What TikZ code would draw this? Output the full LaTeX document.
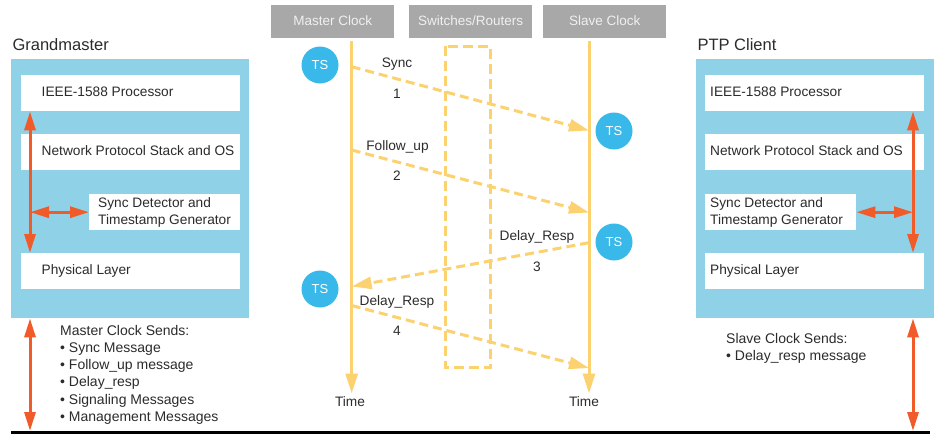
\documentclass[tikz,border=0pt]{standalone}
\usepackage{fontspec}
\setmainfont{Liberation Sans}
\usetikzlibrary{arrows.meta,calc}
\definecolor{panel}{HTML}{8FD1E7}
\definecolor{signal}{HTML}{F15A29}
\definecolor{msg}{HTML}{FBD26F}
\definecolor{stamp}{HTML}{39B9E9}
\definecolor{hdr}{HTML}{A8A8A8}
\definecolor{hdrtext}{HTML}{F0F0F0}
\definecolor{ink}{HTML}{2B2B2B}
\begin{document}
\begin{tikzpicture}[x=1pt,y=-1pt,
  every node/.style={text=ink},
  txt/.style={font=\fontsize{13.7}{15}\selectfont},
  title/.style={font=\fontsize{16.5}{19}\selectfont, anchor=base west},
  panelbox/.style={fill=panel, draw=none, inner sep=0pt, anchor=north west},
  layer/.style={fill=white, draw=none, inner sep=0pt, anchor=north west, minimum height=36pt},
  lbl/.style={txt, anchor=west, inner sep=0pt, text height=9.8pt, text depth=2.6pt},
  hdrbox/.style={fill=hdr, draw=none, inner sep=0pt, anchor=north west,
    minimum width=123pt, minimum height=32.7pt, text=hdrtext,
    font=\fontsize{13.5}{15}\selectfont, text height=9.5pt, text depth=2.5pt},
  stampdot/.style={circle, fill=stamp, minimum size=37pt, inner sep=0pt,
    text=white, font=\fontsize{13}{14}\selectfont},
  link/.style={draw=signal, line width=3pt,
    {Triangle[length=19pt,width=11pt]}-{Triangle[length=19pt,width=11pt]}},
  life/.style={draw=msg, line width=3pt, -{Triangle[length=20pt,width=12pt]}},
  message/.style={draw=msg, line width=3pt, dash pattern=on 9pt off 5pt,
    -{Triangle[length=20pt,width=12pt]}},
  msglbl/.style={txt, anchor=base, inner sep=0pt},
  listline/.style={font=\fontsize{14}{16}\selectfont, anchor=base west, inner sep=0pt}
]
\useasboundingbox (0,0) rectangle (935,434);

% ---------------- Grandmaster stack ----------------
\node[title] (gmtitle) at (9,50.7) {Grandmaster};
\node[panelbox, minimum width=238pt, minimum height=259pt] (gm) at (11,59) {};
\node[layer, minimum width=219pt] (gmproc) at (21,75) {};
\node[lbl] (gmproct) at ($(gmproc.west)+(20.5,0)$) {IEEE-1588 Processor};
\node[layer, minimum width=219pt] (gmnet) at (21,134) {};
\node[lbl] (gmnett) at ($(gmnet.west)+(20.5,0)$) {Network Protocol Stack and OS};
\node[layer, minimum width=151pt] (gmsync) at (89,194) {};
\node[txt, anchor=west, align=left, inner sep=0pt, font=\fontsize{13.7}{17}\selectfont] (gmsynct)
  at ($(gmsync.west)+(9,0)$) {Sync Detector and\\Timestamp Generator};
\node[layer, minimum width=219pt] (gmphy) at (21,253) {};
\node[lbl] (gmphyt) at ($(gmphy.west)+(20.5,0)$) {Physical Layer};

\coordinate (gmbus) at (30,0);
\draw[link] (gmproc.south -| gmbus) -- (gmphy.north -| gmbus);
\draw[link] (gmbus |- gmsync.west) -- (gmsync.west);

% ---------------- PTP client stack ----------------
\node[title] (pctitle) at (694,50.7) {PTP Client};
\node[panelbox, minimum width=238pt, minimum height=259pt] (pc) at (696,59) {};
\node[layer, minimum width=219pt] (pcproc) at (705,75) {};
\node[lbl] (pcproct) at ($(pcproc.west)+(5,0)$) {IEEE-1588 Processor};
\node[layer, minimum width=219pt] (pcnet) at (705,134) {};
\node[lbl] (pcnett) at ($(pcnet.west)+(5,0)$) {Network Protocol Stack and OS};
\node[layer, minimum width=151pt] (pcsync) at (705,194) {};
\node[txt, anchor=west, align=left, inner sep=0pt, font=\fontsize{13.7}{17}\selectfont] (pcsynct)
  at ($(pcsync.west)+(5,0)$) {Sync Detector and\\Timestamp Generator};
\node[layer, minimum width=219pt] (pcphy) at (705,253) {};
\node[lbl] (pcphyt) at ($(pcphy.west)+(5,0)$) {Physical Layer};

\coordinate (pcbus) at (913,0);
\draw[link] (pcproc.south -| pcbus) -- (pcphy.north -| pcbus);
\draw[link] (pcbus |- pcsync.east) -- (pcsync.east);

% ---------------- base line and spans ----------------
\coordinate (baseL) at (11,432.5);
\coordinate (baseR) at (930,432.5);
\draw[line width=3pt, black] (baseL) -- (baseR);
\draw[link] (gm.south -| gmbus) -- ($(gmbus |- baseL)+(0,-1.5)$);
\draw[link] (pc.south -| pcbus) -- ($(pcbus |- baseR)+(0,-1.5)$);

% ---------------- message lists ----------------
\node[listline] (ml0) at (60,335)   {Master Clock Sends:};
\node[listline] (ml1) at (60,352.3) {\textbullet\ Sync Message};
\node[listline] (ml2) at (60,369.6) {\textbullet\ Follow\_up message};
\node[listline] (ml3) at (60,386.9) {\textbullet\ Delay\_resp};
\node[listline] (ml4) at (60,404.2) {\textbullet\ Signaling Messages};
\node[listline] (ml5) at (60,421.5) {\textbullet\ Management Messages};

\node[listline] (sl0) at (726,343.3) {Slave Clock Sends:};
\node[listline] (sl1) at (726,360)   {\textbullet\ Delay\_resp message};

% ---------------- timing diagram ----------------
\node[hdrbox] (mclk) at (271,5) {Master Clock};
\node[hdrbox] (sw) at (409,5) {Switches/Routers};
\node[hdrbox] (sclk) at (543,5) {Slave Clock};

\draw[draw=msg, line width=3pt, dash pattern=on 10pt off 5pt] (445.7,46) rectangle (490,367.7);

\coordinate (mtop) at (351.7,41);
\coordinate (mbot) at (351.7,393.5);
\coordinate (stop) at (589,41);
\coordinate (sbot) at (589,393.5);
\draw[life] (mtop) -- (mbot);
\draw[life] (stop) -- (sbot);
\node[txt, anchor=base, inner sep=0pt] (mtime) at (350,406.7) {Time};
\node[txt, anchor=base, inner sep=0pt] (stime) at (584,406.7) {Time};

\node[stampdot] (ts1) at (320,65) {TS};
\node[stampdot] (ts2) at (614,131) {TS};
\node[stampdot] (ts3) at (614,242) {TS};
\node[stampdot] (ts4) at (320,289) {TS};

% message exchanges between the two clocks
\coordinate (m1a) at (351.7,66.7);  \coordinate (m1b) at (589,130.5);
\coordinate (m2a) at (351.7,150);   \coordinate (m2b) at (589,212.5);
\coordinate (m3a) at (589,242.7);   \coordinate (m3b) at (351.7,286.5);
\coordinate (m4a) at (351.7,305.5); \coordinate (m4b) at (589,368);
\draw[message] (m1a) -- (m1b);
\draw[message] (m2a) -- (m2b);
\draw[message] (m3a) -- (m3b);
\draw[message] (m4a) -- (m4b);

\node[msglbl] (l1) at (397,67) {Sync};
\node[msglbl] (n1) at (397,98.3) {1};
\node[msglbl] (l2) at (397.5,150) {Follow\_up};
\node[msglbl] (n2) at (397,180.7) {2};
\node[msglbl] (l3) at (537,240.7) {Delay\_Resp};
\node[msglbl] (n3) at (537,271.7) {3};
\node[msglbl] (l4) at (397,305) {Delay\_Resp};
\node[msglbl] (n4) at (397,335.7) {4};
\end{tikzpicture}
\end{document}
